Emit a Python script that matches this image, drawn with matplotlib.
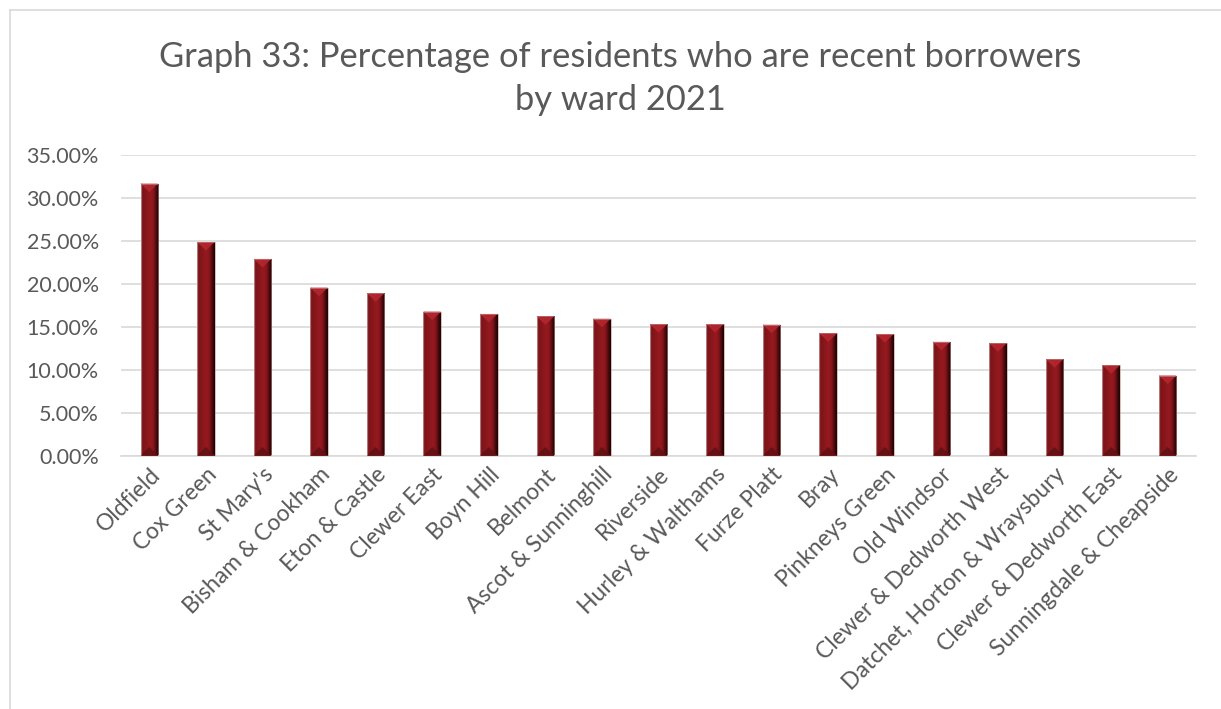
import matplotlib
matplotlib.use("Agg")
import matplotlib.pyplot as plt
import numpy as np
from matplotlib.colors import LinearSegmentedColormap
from matplotlib.patches import Polygon, Rectangle
from matplotlib.ticker import FuncFormatter

wards = [
    "Oldfield", "Cox Green", "St Mary's", "Bisham & Cookham", "Eton & Castle",
    "Clewer East", "Boyn Hill", "Belmont", "Ascot & Sunninghill", "Riverside",
    "Hurley & Walthams", "Furze Platt", "Bray", "Pinkneys Green", "Old Windsor",
    "Clewer & Dedworth West", "Datchet, Horton & Wraysbury",
    "Clewer & Dedworth East", "Sunningdale & Cheapside",
]
recent_borrowers = [
    0.3163, 0.2484, 0.2287, 0.1953, 0.1888,
    0.1674, 0.1647, 0.1619, 0.1591, 0.1529,
    0.1529, 0.1521, 0.1420, 0.1412, 0.1322,
    0.1306, 0.1120, 0.1050, 0.0930,
]
y_ticks = [0.0, 0.05, 0.10, 0.15, 0.20, 0.25, 0.30, 0.35]

FONT = ["Lato", "DejaVu Sans"]
GREY_TEXT = "#595959"
GRID = "#d9d9d9"

fig = plt.figure(figsize=(12.21, 7.09), dpi=100)
fig.patch.set_facecolor("white")

# chart frame (top and left edges visible)
fig.add_artist(plt.Line2D([10 / 1221, 1.0], [1 - 10 / 709, 1 - 10 / 709],
                          transform=fig.transFigure, color="#d9d9d9", lw=1.2))
fig.add_artist(plt.Line2D([10 / 1221, 10 / 1221], [0.0, 1 - 10 / 709],
                          transform=fig.transFigure, color="#d9d9d9", lw=1.2))

ax = fig.add_axes([121 / 1221, 1 - 455.5 / 709, (1196 - 121) / 1221, (455.5 - 154.7) / 709])

x = np.arange(len(wards))
bar_w = 0.31
bars = ax.bar(x, recent_borrowers, width=bar_w, color="#8b1a1e",
              edgecolor="none", zorder=3)

# horizontal shading across each bar for the bevelled look
shade = LinearSegmentedColormap.from_list("bevel", [
    (0.00, "#b07070"), (0.07, "#7a1418"), (0.30, "#88171c"),
    (0.55, "#961a20"), (0.72, "#82151a"), (0.86, "#4a0a0d"), (1.00, "#1a0303"),
])
grad = np.linspace(0, 1, 64).reshape(1, -1)
px = 0.05 / 43.0  # data units per pixel on the value axis
for rect, v in zip(bars, recent_borrowers):
    x0 = rect.get_x()
    x1 = x0 + rect.get_width()
    xc = (x0 + x1) / 2
    im = ax.imshow(grad, cmap=shade, aspect="auto", extent=(x0, x1, 0, v),
                   zorder=3.5, interpolation="bilinear")
    im.set_clip_path(rect)
    d = 8.5 * px
    # top bevel: bright triangle facing down
    ax.add_patch(Polygon([(x0, v), (x1, v), (xc, v - d)], closed=True,
                         facecolor="#b0242b", edgecolor="none", zorder=4))
    ax.add_patch(Polygon([(x0, v), (x0 + 0.02, v), (xc, v - d * 0.6)], closed=True,
                         facecolor="#c4444a", edgecolor="none", zorder=4, alpha=0.6))
    # bottom bevel: darker triangle facing up
    ax.add_patch(Polygon([(x0, 0), (x1, 0), (xc, d)], closed=True,
                         facecolor="#5e1014", edgecolor="none", zorder=4, alpha=0.85))
    # thin light outline
    ax.add_patch(Rectangle((x0, 0), x1 - x0, v, fill=False, edgecolor="#c09090",
                           lw=0.6, zorder=4.5, alpha=0.7))

ax.set_xlim(-0.5, len(wards) - 0.5)
ax.set_ylim(0, 0.35)
ax.set_yticks(y_ticks)
ax.yaxis.set_major_formatter(FuncFormatter(lambda v, _: f"{v * 100:.2f}%"))
ax.grid(axis="y", color=GRID, lw=1.2, zorder=0)
ax.set_axisbelow(True)
for side in ("top", "right", "left"):
    ax.spines[side].set_visible(False)
ax.spines["bottom"].set_color(GRID)
ax.spines["bottom"].set_linewidth(1.2)
ax.tick_params(axis="y", length=0, pad=16, labelsize=15.5, labelcolor=GREY_TEXT)
ax.tick_params(axis="x", length=0, pad=6, labelsize=16.5, labelcolor=GREY_TEXT)
ax.set_xticks(x)
ax.set_xticklabels(wards, rotation=45, ha="right", rotation_mode="anchor",
                   family=FONT)
for lab in ax.get_yticklabels():
    lab.set_family(FONT)

fig.text(0.508, 1 - 57 / 709, "Graph 33: Percentage of residents who are recent borrowers",
         ha="center", va="center", fontsize=24.8, color=GREY_TEXT, family=FONT)
fig.text(0.508, 1 - 100 / 709, "by ward 2021",
         ha="center", va="center", fontsize=24.8, color=GREY_TEXT, family=FONT)

fig.savefig("out.png", dpi=100, facecolor="white")
